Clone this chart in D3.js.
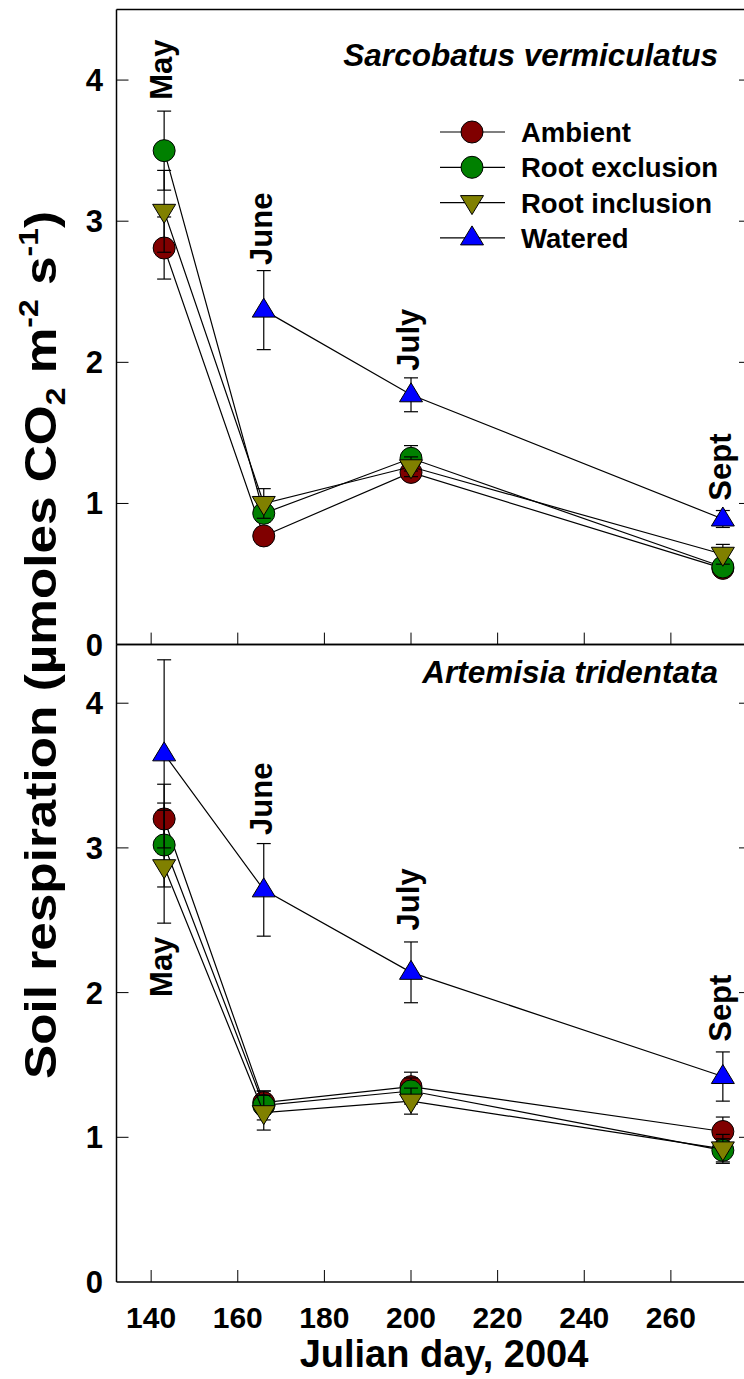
<!DOCTYPE html>
<html>
<head>
<meta charset="utf-8">
<script src="https://cdn.jsdelivr.net/npm/d3@7"></script>
<style>
  body { margin: 0; background: #fff; }
  text { font-family: "Liberation Sans", Arial, sans-serif; font-weight: bold; }
</style>
</head>
<body>
<div id="canvas"></div>
<script>
"use strict"
let svgWidth = 744;
let svgHeight = 1379;

// Julian days sampled, and the month each one stands for
let days = [143, 166, 200, 272];
let months = ["May", "June", "July", "Sept"];

let seriesNames = ["Ambient", "Root exclusion", "Root inclusion", "Watered"];

// Sarcobatus vermiculatus (top panel), means and standard errors
let ambientS = [2.81, 0.77, 1.22, 0.54];
let ambientSErr = [0.22, 0.06, 0.05, 0.04];
let exclusionS = [3.50, 0.93, 1.32, 0.55];
let exclusionSErr = [0.28, 0.06, 0.09, 0.05];
let inclusionS = [3.07, 1.00, 1.26, 0.64];
let inclusionSErr = [0.29, 0.105, 0.07, 0.07];
let wateredS = [null, 2.37, 1.77, 0.89];
let wateredSErr = [null, 0.28, 0.12, 0.06];

// Artemisia tridentata (bottom panel)
let ambientA = [3.20, 1.24, 1.35, 1.04];
let ambientAErr = [0.24, 0.08, 0.10, 0.10];
let exclusionA = [3.02, 1.22, 1.32, 0.91];
let exclusionAErr = [0.29, 0.10, 0.09, 0.08];
let inclusionA = [2.87, 1.17, 1.25, 0.92];
let inclusionAErr = [0.39, 0.12, 0.09, 0.10];
let wateredA = [3.65, 2.71, 2.14, 1.42];
let wateredAErr = [0.65, 0.32, 0.21, 0.17];

// where the rotated month names start (bottom end), in y units
let monthPosS = [3.86, 2.69, 1.94, 1.02];
let monthPosA = [1.97, 3.09, 2.43, 1.66];

let xTicks = [140, 160, 180, 200, 220, 240, 260];
let yTicks = [0, 1, 2, 3, 4];

let colors = ["#800000", "#008000", "#808000", "#0000ff"];
let shapes = ["circle", "circle", "down", "up"];

let marginLeft = 116.5;
let plotRight = 751;

let svg = d3.select("#canvas")
    .append("svg")
    .attr("width", svgWidth)
    .attr("height", svgHeight);

let xScale = d3.scaleLinear()
    .domain([132, 278.5])
    .range([marginLeft, plotRight]);

// draws one marker shape centred on (x, y)
function drawMarker(g, shape, x, y, color) {
    if (shape == "circle") {
        g.append("circle")
            .attr("cx", x).attr("cy", y).attr("r", 11)
            .attr("fill", color).attr("stroke", "black").attr("stroke-width", 1);
    } else {
        let s = shape == "up" ? 1 : -1;
        let p = d3.path();
        p.moveTo(x, y - 12 * s);
        p.lineTo(x + 11.5, y + 7 * s);
        p.lineTo(x - 11.5, y + 7 * s);
        p.closePath();
        g.append("path")
            .attr("d", p.toString())
            .attr("fill", color).attr("stroke", "black").attr("stroke-width", 1);
    }
}

function drawPanel(panel) {
    let yScale = d3.scaleLinear()
        .domain([0, panel.yMax])
        .range([panel.bottom, panel.top]);
    let g = svg.append("g");

    // frame
    g.append("line")
        .attr("x1", marginLeft).attr("x2", marginLeft)
        .attr("y1", panel.top).attr("y2", panel.bottom)
        .attr("stroke", "black").attr("stroke-width", 1.5);
    g.append("line")
        .attr("x1", marginLeft).attr("x2", plotRight)
        .attr("y1", panel.bottom).attr("y2", panel.bottom)
        .attr("stroke", "black").attr("stroke-width", 1.5);
    g.append("line")
        .attr("x1", marginLeft).attr("x2", plotRight)
        .attr("y1", panel.top).attr("y2", panel.top)
        .attr("stroke", "black").attr("stroke-width", 1.5);

    // x ticks (inside, bottom only)
    xTicks.forEach(function(t) {
        g.append("line")
            .attr("x1", xScale(t)).attr("x2", xScale(t))
            .attr("y1", panel.bottom).attr("y2", panel.bottom - 12)
            .attr("stroke", "black").attr("stroke-width", 1);
    });

    // y ticks left and right, with labels on the left
    yTicks.forEach(function(t) {
        let y = yScale(t);
        if (t > 0) {
            g.append("line")
                .attr("x1", marginLeft).attr("x2", marginLeft + 12)
                .attr("y1", y).attr("y2", y)
                .attr("stroke", "black").attr("stroke-width", 1);
            g.append("line")
                .attr("x1", plotRight).attr("x2", plotRight - 12)
                .attr("y1", y).attr("y2", y)
                .attr("stroke", "black").attr("stroke-width", 1);
        }
        g.append("text")
            .attr("x", 103)
            .attr("y", y + 11)
            .attr("text-anchor", "end")
            .attr("font-size", 31)
            .text(t);
    });

    // each series: line, error bars, symbols
    panel.series.forEach(function(s, i) {
        let pts = [];
        for (let k = 0; k < days.length; k++) {
            if (s.values[k] != null) {
                pts.push({x: days[k], y: s.values[k], e: s.errors[k]});
            }
        }
        let line = d3.line()
            .x(function(d) { return xScale(d.x); })
            .y(function(d) { return yScale(d.y); });
        g.append("path")
            .attr("d", line(pts))
            .attr("fill", "none")
            .attr("stroke", "black")
            .attr("stroke-width", 1.2);

        pts.forEach(function(d) {
            let x = xScale(d.x);
            g.append("line")
                .attr("x1", x).attr("x2", x)
                .attr("y1", yScale(d.y - d.e)).attr("y2", yScale(d.y + d.e))
                .attr("stroke", "black").attr("stroke-width", 1.2);
            [d.y - d.e, d.y + d.e].forEach(function(v) {
                g.append("line")
                    .attr("x1", x - 7).attr("x2", x + 7)
                    .attr("y1", yScale(v)).attr("y2", yScale(v))
                    .attr("stroke", "black").attr("stroke-width", 1.2);
            });
        });
        pts.forEach(function(d) {
            drawMarker(g, shapes[i], xScale(d.x), yScale(d.y), colors[i]);
        });
    });

    // month annotations
    months.forEach(function(m, k) {
        g.append("text")
            .attr("transform", "translate(" + (xScale(days[k]) + 8) + "," + yScale(panel.monthPos[k]) + ") rotate(-90)")
            .attr("text-anchor", "start")
            .attr("font-size", 31)
            .text(m);
    });

    // species title
    g.append("text")
        .attr("x", 718)
        .attr("y", panel.top + panel.titleOffset)
        .attr("text-anchor", "end")
        .attr("font-size", 31.5)
        .attr("font-style", "italic")
        .text(panel.title);
}

drawPanel({
    top: 9.5, bottom: 644.6, yMax: 4.5,
    title: "Sarcobatus vermiculatus", titleOffset: 56,
    monthPos: monthPosS,
    series: [
        {values: ambientS, errors: ambientSErr},
        {values: exclusionS, errors: exclusionSErr},
        {values: inclusionS, errors: inclusionSErr},
        {values: wateredS, errors: wateredSErr}
    ]
});

drawPanel({
    top: 644.6, bottom: 1282, yMax: 4.405,
    title: "Artemisia tridentata", titleOffset: 38,
    monthPos: monthPosA,
    series: [
        {values: ambientA, errors: ambientAErr},
        {values: exclusionA, errors: exclusionAErr},
        {values: inclusionA, errors: inclusionAErr},
        {values: wateredA, errors: wateredAErr}
    ]
});

// legend in the top panel
let legendX = 440;
let legendY = 132;
seriesNames.forEach(function(name, i) {
    let y = legendY + i * 35.3;
    svg.append("line")
        .attr("x1", legendX).attr("x2", legendX + 65)
        .attr("y1", y).attr("y2", y)
        .attr("stroke", "black").attr("stroke-width", 1.2);
    drawMarker(svg, shapes[i], legendX + 32, y, colors[i]);
    svg.append("text")
        .attr("x", legendX + 81)
        .attr("y", y + 10)
        .attr("font-size", 27.5)
        .text(name);
});

// x tick labels under the bottom panel
xTicks.forEach(function(t) {
    svg.append("text")
        .attr("x", xScale(t))
        .attr("y", 1328)
        .attr("text-anchor", "middle")
        .attr("font-size", 30)
        .text(t);
});

svg.append("text")
    .attr("x", 444)
    .attr("y", 1367)
    .attr("text-anchor", "middle")
    .attr("font-size", 38)
    .text("Julian day, 2004");

// y axis title with sub/superscripts, stretched along its length like the original
let yLabel = svg.append("text")
    .attr("transform", "translate(56,645) rotate(-90) scale(1.14,1)")
    .attr("text-anchor", "middle")
    .attr("font-size", 45);
yLabel.append("tspan").text("Soil respiration (");
yLabel.append("tspan").text("\u00b5");
yLabel.append("tspan").text("moles CO");
yLabel.append("tspan").attr("font-size", 28).attr("dy", 9).text("2");
yLabel.append("tspan").attr("dy", -9).text(" m");
yLabel.append("tspan").attr("font-size", 28).attr("dy", -18).text("-2");
yLabel.append("tspan").attr("dy", 18).text(" s");
yLabel.append("tspan").attr("font-size", 28).attr("dy", -18).text("-1");
yLabel.append("tspan").attr("dy", 18).text(")");
</script>
</body>
</html>
